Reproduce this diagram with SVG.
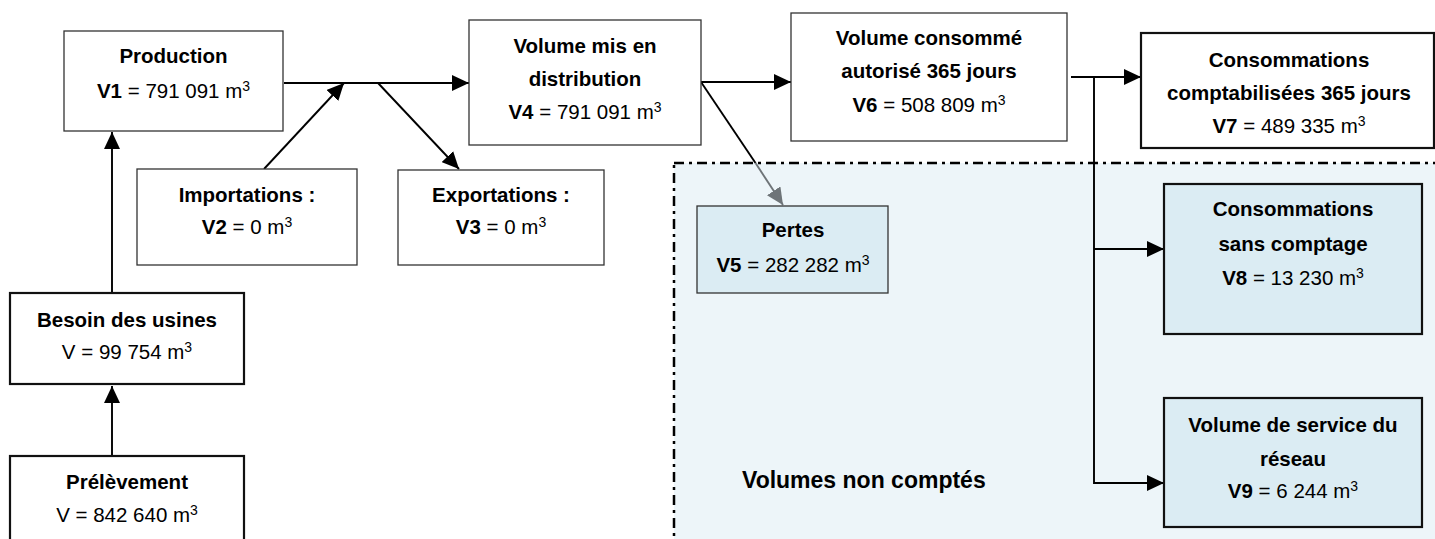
<svg xmlns="http://www.w3.org/2000/svg" width="1435" height="539" viewBox="0 0 1435 539">
<defs>
<style>
text{font-family:"Liberation Sans",Arial,sans-serif;font-size:20.5px;fill:#000;text-anchor:middle}
.b{font-weight:bold}
.sup{font-size:14px}
.box{fill:#fff;stroke:#333;stroke-width:1.3}
.thick{fill:#fff;stroke:#111;stroke-width:2.2}
.blue{fill:#dbecf3}
.ln{fill:none;stroke:#000;stroke-width:1.9}
</style>
<marker id="ahb" viewBox="0 0 17 16" refX="17" refY="8" markerWidth="17" markerHeight="16" markerUnits="userSpaceOnUse" orient="auto">
<path d="M0,0 L17,8 L0,16 z" fill="#000"/>
</marker>
<marker id="ahg" viewBox="0 0 17 16" refX="17" refY="8" markerWidth="17" markerHeight="16" markerUnits="userSpaceOnUse" orient="auto">
<path d="M0,0 L17,8 L0,16 z" fill="#6e7478"/>
</marker>
</defs>
<rect width="1435" height="539" fill="#fff"/>
<g id="zone">
<rect x="674" y="163" width="770" height="390" fill="#edf5f9" stroke="#000" stroke-width="2.5" stroke-dasharray="10 5 3 5"/>
<text class="b" x="742" y="488" style="text-anchor:start;font-size:23px">Volumes non comptés</text>
</g>
<g id="connectors">
<line class="ln" x1="112" y1="456" x2="112" y2="386" marker-end="url(#ahb)"/>
<line class="ln" x1="112" y1="293" x2="112" y2="132" marker-end="url(#ahb)"/>
<line class="ln" x1="284" y1="83" x2="469" y2="83" marker-end="url(#ahb)"/>
<line class="ln" x1="264" y1="169" x2="344" y2="83" marker-end="url(#ahb)"/>
<line class="ln" x1="378" y1="83" x2="459" y2="169" marker-end="url(#ahb)"/>
<line class="ln" x1="701" y1="82" x2="791" y2="82" marker-end="url(#ahb)"/>
<line class="ln" x1="701" y1="82" x2="755.5" y2="163"/>
<line x1="755.5" y1="163" x2="783" y2="205" stroke="#6e7478" stroke-width="1.9" marker-end="url(#ahg)"/>
<line class="ln" x1="1071" y1="77" x2="1141" y2="77" marker-end="url(#ahb)"/>
<polyline class="ln" points="1094,77 1094,483 1164,483" marker-end="url(#ahb)"/>
<line class="ln" x1="1094" y1="249" x2="1164" y2="249" marker-end="url(#ahb)"/>
</g>
<g id="production">
<rect class="box" x="64" y="31" width="219" height="100"/>
<text class="b" x="173.5" y="63">Production</text>
<text x="173.5" y="98"><tspan class="b">V1</tspan> = 791 091 m<tspan class="sup" dy="-7">3</tspan></text>
</g>
<g id="importations">
<rect class="box" x="137" y="169" width="220" height="96"/>
<text class="b" x="247" y="202">Importations :</text>
<text x="247" y="234"><tspan class="b">V2</tspan> = 0 m<tspan class="sup" dy="-7">3</tspan></text>
</g>
<g id="exportations">
<rect class="box" x="398" y="170" width="206" height="95"/>
<text class="b" x="501" y="202">Exportations :</text>
<text x="501" y="234"><tspan class="b">V3</tspan> = 0 m<tspan class="sup" dy="-7">3</tspan></text>
</g>
<g id="distribution">
<rect class="box" x="469" y="20" width="232" height="125"/>
<text class="b" x="585" y="53">Volume mis en</text>
<text class="b" x="585" y="86">distribution</text>
<text x="585" y="119"><tspan class="b">V4</tspan> = 791 091 m<tspan class="sup" dy="-7">3</tspan></text>
</g>
<g id="consomme">
<rect class="box" x="791" y="13" width="276" height="128"/>
<text class="b" x="929" y="45">Volume consommé</text>
<text class="b" x="929" y="78">autorisé 365 jours</text>
<text x="929" y="112"><tspan class="b">V6</tspan> = 508 809 m<tspan class="sup" dy="-7">3</tspan></text>
</g>
<g id="comptabilisees">
<rect class="thick" x="1141" y="33" width="293" height="115"/>
<text class="b" x="1289" y="67">Consommations</text>
<text class="b" x="1289" y="100">comptabilisées 365 jours</text>
<text x="1289" y="133"><tspan class="b">V7</tspan> = 489 335 m<tspan class="sup" dy="-7">3</tspan></text>
</g>
<g id="pertes">
<rect class="box blue" x="697" y="206" width="191" height="87"/>
<text class="b" x="793" y="237">Pertes</text>
<text x="793" y="272"><tspan class="b">V5</tspan> = 282 282 m<tspan class="sup" dy="-7">3</tspan></text>
</g>
<g id="sans-comptage">
<rect class="thick blue" x="1164" y="184" width="258" height="150"/>
<text class="b" x="1293" y="216">Consommations</text>
<text class="b" x="1293" y="251">sans comptage</text>
<text x="1293" y="285"><tspan class="b">V8</tspan> = 13 230 m<tspan class="sup" dy="-7">3</tspan></text>
</g>
<g id="service">
<rect class="thick blue" x="1164" y="398" width="258" height="129"/>
<text class="b" x="1293" y="432">Volume de service du</text>
<text class="b" x="1293" y="466">réseau</text>
<text x="1293" y="498"><tspan class="b">V9</tspan> = 6 244 m<tspan class="sup" dy="-7">3</tspan></text>
</g>
<g id="besoin">
<rect class="thick" x="10" y="293" width="234" height="91"/>
<text class="b" x="127" y="327">Besoin des usines</text>
<text x="127" y="359">V = 99 754 m<tspan class="sup" dy="-7">3</tspan></text>
</g>
<g id="prelevement">
<rect class="thick" x="10" y="456" width="234" height="100"/>
<text class="b" x="127" y="489">Prélèvement</text>
<text x="127" y="522">V = 842 640 m<tspan class="sup" dy="-7">3</tspan></text>
</g>
</svg>
